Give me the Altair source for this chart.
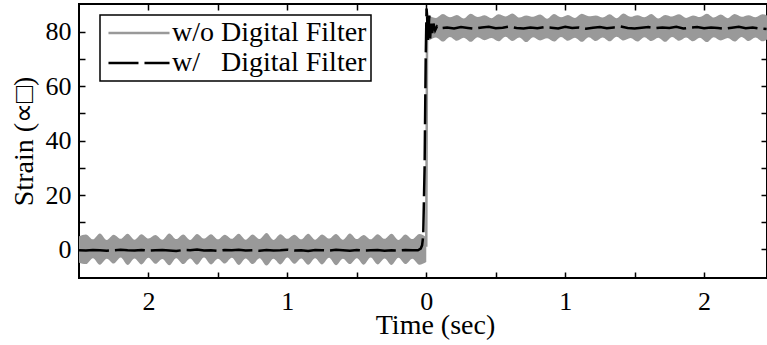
import altair as alt
import numpy as np
import pandas as pd

GRAY = "#999999"
FONT = "Liberation Serif"
RAW = "w/o Digital Filter"
FILT = "w/\u00a0\u00a0\u00a0Digital Filter"

# Raw strain signal, upper/lower envelope, before the step (from t = -2.5 s, every 0.05 s)
raw_pre_hi = [4.8,
              5.5, 3.7, 5.9, 3.5, 5.4, 3.9, 5.8, 3.6, 5.6, 4.0,
              5.3, 3.6, 5.9, 3.8, 5.5, 3.5, 5.7, 4.0, 5.6, 3.7,
              5.4, 3.9, 5.8, 3.6, 5.5, 3.8, 6.0, 3.5, 5.6, 3.9,
              5.4, 3.7, 5.8, 3.6, 5.5, 4.0, 5.7, 3.6, 5.9, 3.8,
              5.3, 3.7, 5.6, 3.9, 5.8, 3.5, 5.5, 3.8, 5.7, 4.5]
raw_pre_lo = [-4.9,
              -5.4, -3.2, -5.6, -3.4, -5.2, -3.0, -5.7, -3.3, -5.5, -3.1,
              -5.3, -3.5, -5.8, -3.2, -5.4, -3.3, -5.6, -3.0, -5.5, -3.4,
              -5.2, -3.1, -5.7, -3.3, -5.4, -3.2, -5.9, -3.4, -5.5, -3.0,
              -5.3, -3.3, -5.6, -3.2, -5.5, -3.1, -5.8, -3.4, -5.4, -3.2,
              -5.6, -3.0, -5.5, -3.3, -5.7, -3.1, -5.4, -3.4, -5.6, -4.6]

# Raw strain signal envelope after the step (from t = 0.02 s, every 0.05 s)
raw_post_hi = [86.0, 85.1, 86.5, 85.3, 86.2, 84.9, 86.6, 85.4, 86.1, 85.0,
               86.4, 85.6, 86.7, 85.2, 86.0, 85.5, 86.3, 84.8, 86.5, 85.3,
               86.2, 85.1, 86.6, 85.7, 86.0, 85.2, 86.4, 85.0, 86.7, 85.5,
               86.1, 85.3, 86.5, 84.9, 86.2, 85.6, 86.4, 85.1, 86.0, 85.4,
               86.6, 85.2, 86.3, 85.0, 86.5, 85.5, 86.1, 85.3, 86.4, 85.6]
raw_post_lo = [76.8, 77.9, 76.4, 78.1, 76.7, 77.8, 76.3, 78.0, 76.9, 77.7,
               76.5, 78.2, 76.6, 77.9, 76.2, 78.0, 76.8, 77.6, 76.4, 78.1,
               76.7, 77.8, 76.3, 78.0, 76.6, 77.9, 76.5, 78.2, 76.8, 77.7,
               76.4, 78.0, 76.6, 77.8, 76.3, 78.1, 76.7, 77.9, 76.5, 77.8,
               76.2, 78.0, 76.8, 77.7, 76.4, 78.1, 76.6, 77.9, 76.5, 77.8]

# Raw signal jump at t = 0
raw_step_t = [0.0, 0.006]
raw_step_v = [1.0, 83.0]

# Filtered signal before the step (from t = -2.5 s, every 0.05 s)
filt_pre = [-0.3, -0.4, -0.2, -0.3, -0.5, -0.3, -0.1, -0.3, -0.4, -0.2,
            -0.5, -0.3, -0.2, -0.4, -0.6, -0.2, -0.3, 0.0, -0.4, -0.3,
            -0.5, -0.2, -0.3, -0.1, -0.4, -0.3, -0.5, -0.2, -0.4, -0.3,
            -0.1, -0.4, -0.3, -0.6, -0.2, -0.3, -0.4, -0.1, -0.3, -0.5,
            -0.2, -0.4, -0.3, -0.2, -0.5, -0.3, -0.4, -0.2, -0.3]

# Filtered signal through the step and its ringing
filt_step_t = [-0.06, -0.04, -0.03, -0.022, -0.012, -0.004, 0.002, 0.006, 0.011,
               0.016, 0.022, 0.028, 0.035, 0.043, 0.052, 0.064, 0.078]
filt_step_v = [-0.3, 0.3, 1.5, 5.0, 30.0, 70.0, 88.5, 86.0, 77.0,
               80.0, 86.0, 77.5, 84.0, 79.5, 83.0, 80.5, 82.0]

# Filtered signal after the step (from t = 0.1 s, every 0.05 s)
filt_post = [81.3, 81.6, 81.2, 81.7, 81.4, 81.1, 81.6, 81.8, 81.3, 81.5,
             81.9, 81.4, 81.2, 81.6, 81.3, 81.7, 81.5, 81.2, 81.8, 81.4,
             81.6, 81.1, 81.5, 81.7, 81.3, 81.6, 81.9, 81.4, 81.2, 81.5,
             81.7, 81.3, 81.6, 81.4, 81.8, 81.2, 81.5, 81.7, 81.3, 81.6,
             81.4, 81.1, 81.5, 81.8, 81.3, 81.6, 81.2, 81.0]

x_ticks = [-2, -1.5, -1, -0.5, 0, 0.5, 1, 1.5, 2]
y_ticks = [0, 10, 20, 30, 40, 50, 60, 70, 80]
x_domain = [-2.5, 2.453]
y_domain = [-10.5, 90.2]

# ---- tables -------------------------------------------------------------
pre_t = -2.5 + 0.05 * np.arange(len(raw_pre_hi))
post_t = 0.02 + 0.05 * np.arange(len(raw_post_hi))
band = pd.concat([
    pd.DataFrame({"t": pre_t, "lo": raw_pre_lo, "hi": raw_pre_hi, "seg": "pre"}),
    pd.DataFrame({"t": post_t, "lo": raw_post_lo, "hi": raw_post_hi, "seg": "post"}),
], ignore_index=True)

fpre_t = -2.5 + 0.05 * np.arange(len(filt_pre))
fpost_t = 0.1 + 0.05 * np.arange(len(filt_post))
filt_t = list(fpre_t) + filt_step_t + list(fpost_t)
filt_v = filt_pre + filt_step_v + filt_post
lines = pd.concat([
    pd.DataFrame({"t": raw_step_t, "v": raw_step_v, "series": RAW}),
    pd.DataFrame({"t": filt_t, "v": filt_v, "series": FILT}),
], ignore_index=True)
lines["i"] = np.arange(len(lines))

# ---- scales & axes ------------------------------------------------------
xs = alt.Scale(domain=x_domain, nice=False, zero=False)
ys = alt.Scale(domain=y_domain, nice=False, zero=False)

# ticks point into the plot: each axis is pulled inside by its tick length
axis_common = dict(offset=-6, tickSize=6, domain=False, grid=False,
                   tickColor="black", tickWidth=1.5)

x_bottom = alt.Axis(
    orient="bottom", values=x_ticks, title="Time (sec)",
    labelExpr="datum.value % 1 != 0 ? '' : (datum.value < 0 ? abs(datum.value) + '\u00a0\u00a0\u00a0\u00a0' : '' + datum.value)",
    labelPadding=10, labelOverlap=False, labelFlush=False,
    titleX=356, titleY=61, titleBaseline="alphabetic",
    **axis_common)
x_top = alt.Axis(orient="top", values=x_ticks, labels=False, title=None, **axis_common)
y_left = alt.Axis(
    orient="left", values=y_ticks, title="Strain (\u221d\u25a1)",
    labelExpr="datum.value % 20 == 0 ? datum.label : ''",
    labelPadding=8, titlePadding=7, labelOverlap=False, labelFlush=False,
    **axis_common)
y_right = alt.Axis(orient="right", values=y_ticks, labels=False, title=None, **axis_common)

legend = alt.Legend(title=None, orient="none", legendX=21, legendY=11)

raw_band = alt.Chart(band).mark_area(
    color=GRAY, interpolate="monotone", clip=True
).encode(
    x=alt.X("t:Q", scale=xs, axis=x_bottom),
    y=alt.Y("lo:Q", scale=ys, axis=y_left),
    y2="hi:Q",
    detail="seg:N",
)

traces = alt.Chart(lines).mark_line(strokeWidth=2.5, clip=True).encode(
    x=alt.X("t:Q", scale=xs, axis=x_top),
    y=alt.Y("v:Q", scale=ys, axis=y_right),
    color=alt.Color("series:N", scale=alt.Scale(domain=[RAW, FILT], range=[GRAY, "black"]),
                    legend=legend),
    strokeDash=alt.StrokeDash("series:N", scale=alt.Scale(domain=[RAW, FILT], range=[[1, 0], [30, 6]]),
                              legend=legend),
    order="i:Q",
)

chart = alt.layer(raw_band, traces).resolve_axis(
    x="independent", y="independent"
).properties(
    width=688, height=274,
    autosize=alt.AutoSizeParams(type="none"),
    padding={"left": 79, "top": 4, "right": 0, "bottom": 67},
).configure_view(
    stroke="black", strokeWidth=2
).configure_axis(
    labelFont=FONT, titleFont=FONT, labelFontSize=26, titleFontSize=28,
    titleFontWeight="normal", labelColor="black", titleColor="black",
).configure_legend(
    labelFont=FONT, labelFontSize=28, labelColor="black", labelLimit=0,
    strokeColor="black", fillColor="white", padding=4, cornerRadius=0,
    # wide horizontal stroke as the line sample (5 units long at size 596 -> ~61 px)
    symbolType="M-2.5,0L2.5,0", symbolSize=596, symbolStrokeWidth=2.5,
    symbolOffset=21, labelOffset=19, rowPadding=2, strokeWidth=1.5,
)

chart.save("out.html", embed_options={"renderer": "svg", "actions": False})
